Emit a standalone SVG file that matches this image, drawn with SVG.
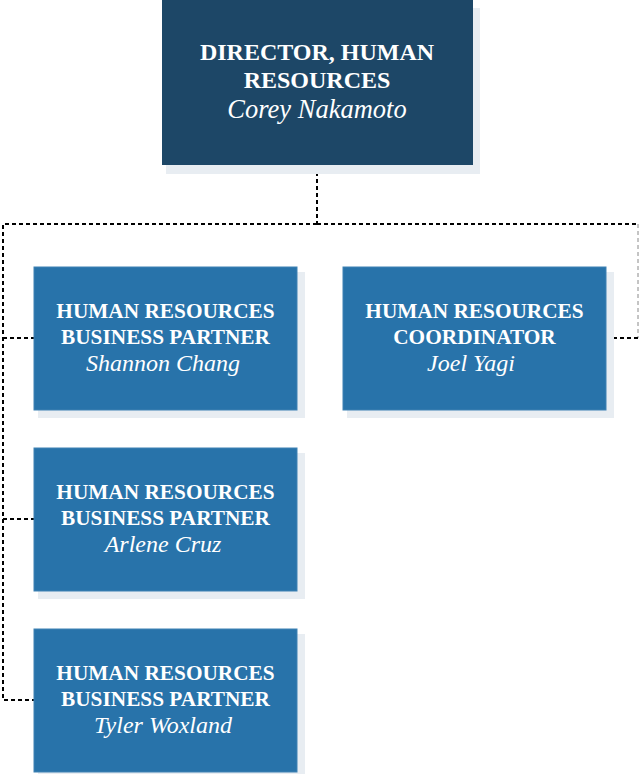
<svg xmlns="http://www.w3.org/2000/svg" width="639" height="774" viewBox="0 0 639 774">
  <style>
    .shadow { fill: #e8edf2; }
    .head { fill: #1d4767; }
    .box { fill: #2873aa; stroke: #3f82b3; stroke-width: 1; }
    .title { font-family: "Liberation Serif", "Times New Roman", serif; font-weight: bold; fill: #ffffff; text-anchor: middle; }
    .name { font-family: "Liberation Serif", "Times New Roman", serif; font-style: italic; fill: #ffffff; text-anchor: middle; }
    .link { fill: none; stroke: #000000; stroke-width: 2; stroke-dasharray: 4 3; }
    .thin { fill: none; stroke: #8a8a8a; stroke-width: 1; stroke-dasharray: 4 3; }
  </style>

  <g id="connectors">
    <path class="link" d="M317 165 V224"/>
    <path class="link" d="M317 224 H3 V700 H34"/>
    <path class="link" d="M3 338 H34"/>
    <path class="link" d="M3 519 H34"/>
    <path class="link" d="M317 224 H638"/>
    <path class="thin" d="M638 224 V338"/>
    <path class="link" d="M638 338 H606"/>
  </g>

  <g id="director">
    <rect class="shadow" x="166" y="8" width="314" height="166"/>
    <rect class="head" x="162" y="0" width="311" height="165"/>
    <text class="title" x="317" y="60" font-size="24">DIRECTOR, HUMAN</text>
    <text class="title" x="317" y="88" font-size="24">RESOURCES</text>
    <text class="name" x="317" y="118" font-size="26.5">Corey Nakamoto</text>
  </g>

  <g id="hrbp-shannon">
    <rect class="shadow" x="38" y="272" width="267" height="146"/>
    <rect class="box" x="34" y="267" width="263" height="143"/>
    <text class="title" x="165.5" y="318" font-size="21.3">HUMAN RESOURCES</text>
    <text class="title" x="165.5" y="344" font-size="21.3">BUSINESS PARTNER</text>
    <text class="name" x="163" y="371" font-size="24">Shannon Chang</text>
  </g>

  <g id="hr-coordinator">
    <rect class="shadow" x="347" y="272" width="267" height="146"/>
    <rect class="box" x="343" y="267" width="263" height="143"/>
    <text class="title" x="474.5" y="318" font-size="21.3">HUMAN RESOURCES</text>
    <text class="title" x="474.5" y="344" font-size="21.3">COORDINATOR</text>
    <text class="name" x="471" y="371" font-size="24">Joel Yagi</text>
  </g>

  <g id="hrbp-arlene">
    <rect class="shadow" x="38" y="453" width="267" height="146"/>
    <rect class="box" x="34" y="448" width="263" height="143"/>
    <text class="title" x="165.5" y="499" font-size="21.3">HUMAN RESOURCES</text>
    <text class="title" x="165.5" y="525" font-size="21.3">BUSINESS PARTNER</text>
    <text class="name" x="163" y="552" font-size="24">Arlene Cruz</text>
  </g>

  <g id="hrbp-tyler">
    <rect class="shadow" x="38" y="634" width="267" height="146"/>
    <rect class="box" x="34" y="629" width="263" height="143"/>
    <text class="title" x="165.5" y="680" font-size="21.3">HUMAN RESOURCES</text>
    <text class="title" x="165.5" y="706" font-size="21.3">BUSINESS PARTNER</text>
    <text class="name" x="163" y="733" font-size="24">Tyler Woxland</text>
  </g>
</svg>
